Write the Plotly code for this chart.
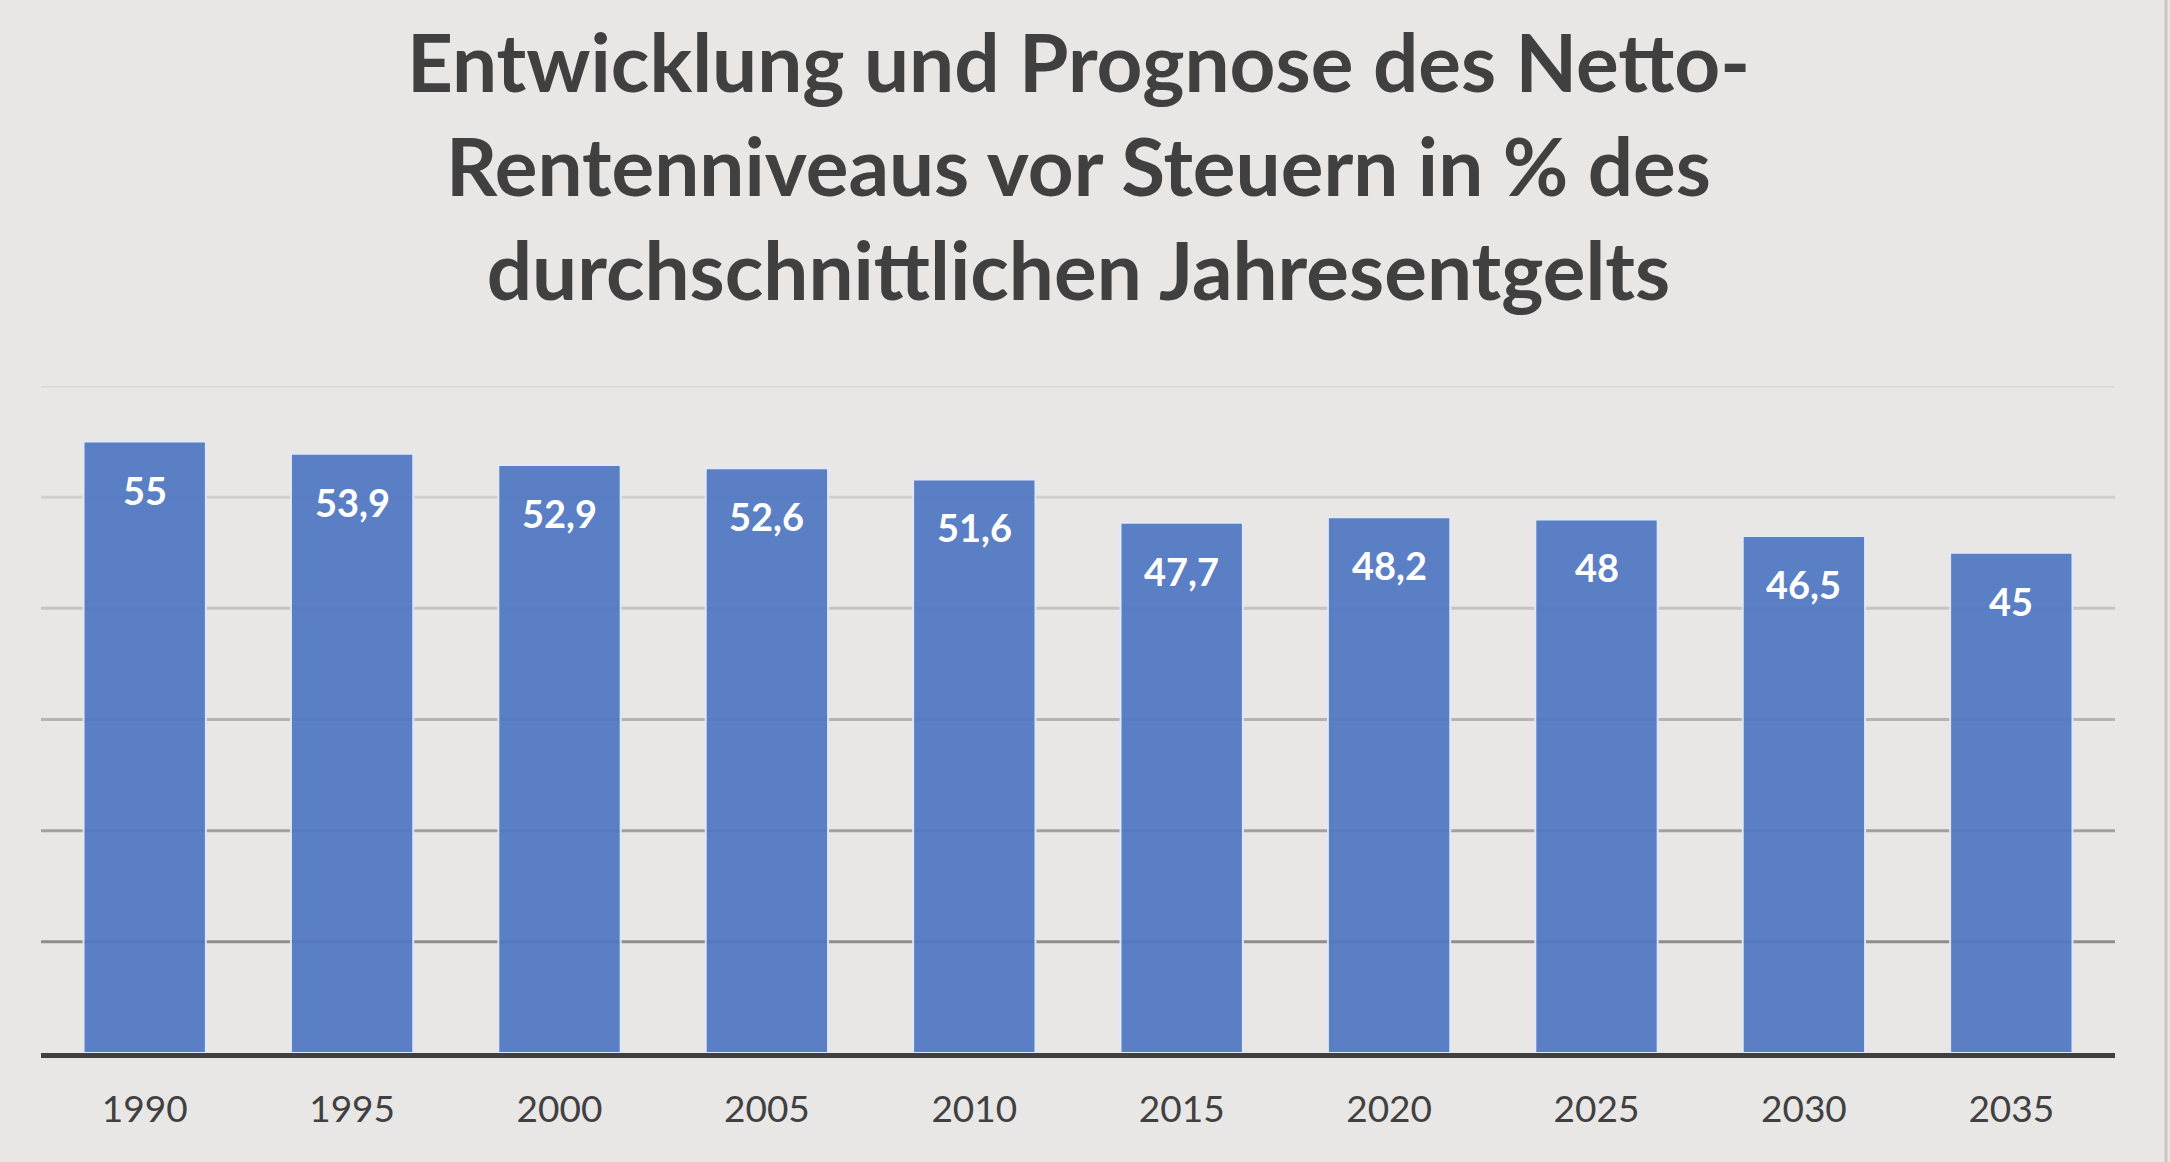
import plotly.graph_objects as go

years = ["1990", "1995", "2000", "2005", "2010", "2015", "2020", "2025", "2030", "2035"]
values = [55, 53.9, 52.9, 52.6, 51.6, 47.7, 48.2, 48, 46.5, 45]
grid_values = [10, 20, 30, 40, 50, 60]
grid_colors = ["#8f8c8c", "#a3a0a0", "#b6b3b3", "#c6c3c3", "#d2cfcf", "#dad7d7"]

title_text = ("Entwicklung und Prognose des Netto-<br>"
              "Rentenniveaus vor Steuern in % des<br>"
              "durchschnittlichen Jahresentgelts")

def fmt(v):
    s = f"{v:g}"
    return s.replace(".", ",")

BG = "#e9e6e6"
fig = go.Figure()
fig.add_trace(go.Bar(
    x=years, y=values,
    marker=dict(color="rgb(79,119,195)", opacity=0.92,
                line=dict(color="rgba(225,234,248,1)", width=2)),
    hoverinfo="x+y",
))

shapes = []
for gv, gc in zip(grid_values, grid_colors):
    shapes.append(dict(type="line", xref="paper", yref="y", x0=0, x1=1, y0=gv, y1=gv,
                       line=dict(color=gc, width=3), layer="below"))
shapes.append(dict(type="line", xref="paper", yref="paper", x0=1.0246, x1=1.0246, y0=-0.2, y1=1.6,
                   line=dict(color="#c9c7c7", width=3)))

annotations = []
for i, v in enumerate(values):
    annotations.append(dict(x=i, y=v, xref="x", yref="y", text=fmt(v), showarrow=False,
                            yshift=-48, font=dict(family="Lato", size=38, color="white", weight="bold")))

fig.update_layout(
    width=2170, height=1162,
    paper_bgcolor=BG, plot_bgcolor=BG,
    margin=dict(l=41, r=55, t=386, b=109),
    bargap=0.41,
    showlegend=False,
    title=dict(text=title_text, x=0.497, xanchor="center", xref="container",
               y=0.921, yanchor="top", yref="container",
               font=dict(family="Lato", size=80, color="#404040", weight="bold")),
    xaxis=dict(type="category", range=[-0.5, 9.5], showgrid=False, showline=True,
               linecolor="#404040", linewidth=5,
               ticks="", tickfont=dict(family="Lato", size=37, color="#404040"),
               ticklabelstandoff=20, zeroline=False),
    yaxis=dict(range=[0, 60], showgrid=False, showticklabels=False, zeroline=False, showline=False),
    shapes=shapes,
    annotations=annotations,
)

fig.write_html("out.html", config={"displayModeBar": False},
               post_script="document.body.style.margin='0';")
